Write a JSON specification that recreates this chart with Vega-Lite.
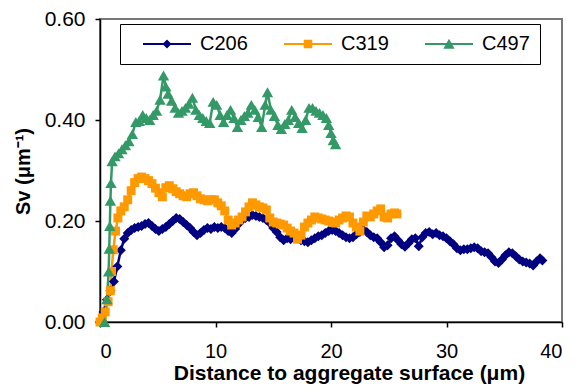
{
  "$schema": "https://vega.github.io/schema/vega-lite/v6.json",
  "autosize": "none",
  "width": 462,
  "height": 303,
  "padding": {"left": 100, "top": 19, "right": 17, "bottom": 70},
  "background": "white",
  "config": {
    "font": "Liberation Sans",
    "view": {"stroke": "#777777", "strokeWidth": 2}
  },
  "datasets": {
    "pts": [
      {"s":"C206","d":0.0,"v":0.000},{"s":"C206","d":0.3,"v":0.020},{"s":"C206","d":0.6,"v":0.044},{"s":"C206","d":0.9,"v":0.062},{"s":"C206","d":1.2,"v":0.080},{"s":"C206","d":1.5,"v":0.110},{"s":"C206","d":1.8,"v":0.142},{"s":"C206","d":2.1,"v":0.165},{"s":"C206","d":2.4,"v":0.176},{"s":"C206","d":2.7,"v":0.182},{"s":"C206","d":3.0,"v":0.186},{"s":"C206","d":3.3,"v":0.188},{"s":"C206","d":3.6,"v":0.190},{"s":"C206","d":3.9,"v":0.194},{"s":"C206","d":4.2,"v":0.196},{"s":"C206","d":4.5,"v":0.190},{"s":"C206","d":4.8,"v":0.184},{"s":"C206","d":5.1,"v":0.180},{"s":"C206","d":5.4,"v":0.184},{"s":"C206","d":5.7,"v":0.188},{"s":"C206","d":6.0,"v":0.194},{"s":"C206","d":6.3,"v":0.200},{"s":"C206","d":6.6,"v":0.206},{"s":"C206","d":6.9,"v":0.204},{"s":"C206","d":7.2,"v":0.198},{"s":"C206","d":7.5,"v":0.192},{"s":"C206","d":7.8,"v":0.186},{"s":"C206","d":8.1,"v":0.178},{"s":"C206","d":8.4,"v":0.172},{"s":"C206","d":8.7,"v":0.176},{"s":"C206","d":9.0,"v":0.182},{"s":"C206","d":9.3,"v":0.186},{"s":"C206","d":9.6,"v":0.184},{"s":"C206","d":9.9,"v":0.188},{"s":"C206","d":10.2,"v":0.186},{"s":"C206","d":10.5,"v":0.188},{"s":"C206","d":10.8,"v":0.186},{"s":"C206","d":11.1,"v":0.180},{"s":"C206","d":11.4,"v":0.176},{"s":"C206","d":11.7,"v":0.184},{"s":"C206","d":12.0,"v":0.194},{"s":"C206","d":12.3,"v":0.202},{"s":"C206","d":12.6,"v":0.206},{"s":"C206","d":12.9,"v":0.208},{"s":"C206","d":13.2,"v":0.212},{"s":"C206","d":13.5,"v":0.210},{"s":"C206","d":13.8,"v":0.208},{"s":"C206","d":14.1,"v":0.206},{"s":"C206","d":14.4,"v":0.202},{"s":"C206","d":14.7,"v":0.196},{"s":"C206","d":15.0,"v":0.186},{"s":"C206","d":15.3,"v":0.178},{"s":"C206","d":15.6,"v":0.168},{"s":"C206","d":15.9,"v":0.162},{"s":"C206","d":16.2,"v":0.166},{"s":"C206","d":16.5,"v":0.164},{"s":"C206","d":16.8,"v":0.168},{"s":"C206","d":17.1,"v":0.166},{"s":"C206","d":17.4,"v":0.162},{"s":"C206","d":17.7,"v":0.160},{"s":"C206","d":18.0,"v":0.158},{"s":"C206","d":18.3,"v":0.162},{"s":"C206","d":18.6,"v":0.166},{"s":"C206","d":18.9,"v":0.170},{"s":"C206","d":19.2,"v":0.172},{"s":"C206","d":19.5,"v":0.176},{"s":"C206","d":19.8,"v":0.180},{"s":"C206","d":20.1,"v":0.182},{"s":"C206","d":20.4,"v":0.180},{"s":"C206","d":20.7,"v":0.176},{"s":"C206","d":21.0,"v":0.172},{"s":"C206","d":21.3,"v":0.168},{"s":"C206","d":21.6,"v":0.166},{"s":"C206","d":21.9,"v":0.168},{"s":"C206","d":22.2,"v":0.174},{"s":"C206","d":22.5,"v":0.178},{"s":"C206","d":22.8,"v":0.182},{"s":"C206","d":23.1,"v":0.178},{"s":"C206","d":23.4,"v":0.172},{"s":"C206","d":23.7,"v":0.168},{"s":"C206","d":24.0,"v":0.166},{"s":"C206","d":24.3,"v":0.158},{"s":"C206","d":24.6,"v":0.148},{"s":"C206","d":24.9,"v":0.152},{"s":"C206","d":25.2,"v":0.166},{"s":"C206","d":25.5,"v":0.170},{"s":"C206","d":25.8,"v":0.162},{"s":"C206","d":26.1,"v":0.154},{"s":"C206","d":26.4,"v":0.149},{"s":"C206","d":26.7,"v":0.156},{"s":"C206","d":27.0,"v":0.164},{"s":"C206","d":27.3,"v":0.166},{"s":"C206","d":27.6,"v":0.150},{"s":"C206","d":27.9,"v":0.168},{"s":"C206","d":28.2,"v":0.176},{"s":"C206","d":28.5,"v":0.178},{"s":"C206","d":28.8,"v":0.174},{"s":"C206","d":29.1,"v":0.176},{"s":"C206","d":29.4,"v":0.172},{"s":"C206","d":29.7,"v":0.170},{"s":"C206","d":30.0,"v":0.166},{"s":"C206","d":30.3,"v":0.160},{"s":"C206","d":30.6,"v":0.154},{"s":"C206","d":30.9,"v":0.146},{"s":"C206","d":31.2,"v":0.142},{"s":"C206","d":31.5,"v":0.144},{"s":"C206","d":31.8,"v":0.144},{"s":"C206","d":32.1,"v":0.146},{"s":"C206","d":32.4,"v":0.148},{"s":"C206","d":32.7,"v":0.146},{"s":"C206","d":33.0,"v":0.140},{"s":"C206","d":33.3,"v":0.138},{"s":"C206","d":33.6,"v":0.136},{"s":"C206","d":33.9,"v":0.128},{"s":"C206","d":34.2,"v":0.120},{"s":"C206","d":34.5,"v":0.117},{"s":"C206","d":34.8,"v":0.124},{"s":"C206","d":35.1,"v":0.132},{"s":"C206","d":35.4,"v":0.138},{"s":"C206","d":35.7,"v":0.136},{"s":"C206","d":36.0,"v":0.130},{"s":"C206","d":36.3,"v":0.124},{"s":"C206","d":36.6,"v":0.120},{"s":"C206","d":36.9,"v":0.118},{"s":"C206","d":37.2,"v":0.116},{"s":"C206","d":37.5,"v":0.112},{"s":"C206","d":37.8,"v":0.120},{"s":"C206","d":38.1,"v":0.126},{"s":"C206","d":38.3,"v":0.122},
      {"s":"C319","d":0.0,"v":0.000},{"s":"C319","d":0.2,"v":0.008},{"s":"C319","d":0.45,"v":0.020},{"s":"C319","d":0.7,"v":0.040},{"s":"C319","d":0.9,"v":0.062},{"s":"C319","d":1.0,"v":0.100},{"s":"C319","d":1.15,"v":0.143},{"s":"C319","d":1.35,"v":0.180},{"s":"C319","d":1.55,"v":0.206},{"s":"C319","d":1.8,"v":0.220},{"s":"C319","d":2.1,"v":0.228},{"s":"C319","d":2.4,"v":0.242},{"s":"C319","d":2.7,"v":0.260},{"s":"C319","d":3.0,"v":0.276},{"s":"C319","d":3.3,"v":0.284},{"s":"C319","d":3.6,"v":0.287},{"s":"C319","d":3.9,"v":0.284},{"s":"C319","d":4.2,"v":0.280},{"s":"C319","d":4.5,"v":0.274},{"s":"C319","d":4.8,"v":0.265},{"s":"C319","d":5.1,"v":0.256},{"s":"C319","d":5.4,"v":0.248},{"s":"C319","d":5.7,"v":0.266},{"s":"C319","d":6.0,"v":0.270},{"s":"C319","d":6.3,"v":0.264},{"s":"C319","d":6.6,"v":0.258},{"s":"C319","d":6.9,"v":0.254},{"s":"C319","d":7.2,"v":0.250},{"s":"C319","d":7.5,"v":0.248},{"s":"C319","d":7.8,"v":0.254},{"s":"C319","d":8.1,"v":0.256},{"s":"C319","d":8.4,"v":0.250},{"s":"C319","d":8.7,"v":0.244},{"s":"C319","d":9.0,"v":0.242},{"s":"C319","d":9.3,"v":0.240},{"s":"C319","d":9.6,"v":0.242},{"s":"C319","d":9.9,"v":0.242},{"s":"C319","d":10.2,"v":0.236},{"s":"C319","d":10.5,"v":0.230},{"s":"C319","d":10.8,"v":0.220},{"s":"C319","d":11.1,"v":0.202},{"s":"C319","d":11.4,"v":0.192},{"s":"C319","d":11.7,"v":0.196},{"s":"C319","d":12.0,"v":0.202},{"s":"C319","d":12.3,"v":0.208},{"s":"C319","d":12.6,"v":0.218},{"s":"C319","d":12.9,"v":0.228},{"s":"C319","d":13.2,"v":0.236},{"s":"C319","d":13.5,"v":0.232},{"s":"C319","d":13.8,"v":0.228},{"s":"C319","d":14.1,"v":0.226},{"s":"C319","d":14.4,"v":0.222},{"s":"C319","d":14.7,"v":0.206},{"s":"C319","d":15.0,"v":0.198},{"s":"C319","d":15.3,"v":0.196},{"s":"C319","d":15.6,"v":0.194},{"s":"C319","d":15.9,"v":0.192},{"s":"C319","d":16.2,"v":0.186},{"s":"C319","d":16.5,"v":0.180},{"s":"C319","d":16.8,"v":0.176},{"s":"C319","d":17.1,"v":0.164},{"s":"C319","d":17.4,"v":0.172},{"s":"C319","d":17.7,"v":0.188},{"s":"C319","d":18.0,"v":0.196},{"s":"C319","d":18.3,"v":0.202},{"s":"C319","d":18.6,"v":0.208},{"s":"C319","d":18.9,"v":0.206},{"s":"C319","d":19.2,"v":0.204},{"s":"C319","d":19.5,"v":0.202},{"s":"C319","d":19.8,"v":0.200},{"s":"C319","d":20.1,"v":0.198},{"s":"C319","d":20.4,"v":0.196},{"s":"C319","d":20.7,"v":0.202},{"s":"C319","d":21.0,"v":0.206},{"s":"C319","d":21.3,"v":0.210},{"s":"C319","d":21.6,"v":0.208},{"s":"C319","d":21.9,"v":0.196},{"s":"C319","d":22.2,"v":0.188},{"s":"C319","d":22.5,"v":0.180},{"s":"C319","d":22.8,"v":0.198},{"s":"C319","d":23.1,"v":0.210},{"s":"C319","d":23.4,"v":0.208},{"s":"C319","d":23.7,"v":0.214},{"s":"C319","d":24.0,"v":0.220},{"s":"C319","d":24.3,"v":0.224},{"s":"C319","d":24.6,"v":0.208},{"s":"C319","d":24.9,"v":0.206},{"s":"C319","d":25.2,"v":0.214},{"s":"C319","d":25.5,"v":0.216},{"s":"C319","d":25.7,"v":0.214},
      {"s":"C497","d":0.4,"v":0.000},{"s":"C497","d":0.6,"v":0.045},{"s":"C497","d":0.75,"v":0.100},{"s":"C497","d":0.8,"v":0.145},{"s":"C497","d":0.85,"v":0.190},{"s":"C497","d":0.9,"v":0.240},{"s":"C497","d":0.95,"v":0.275},{"s":"C497","d":1.05,"v":0.318},{"s":"C497","d":1.3,"v":0.328},{"s":"C497","d":1.6,"v":0.334},{"s":"C497","d":1.9,"v":0.342},{"s":"C497","d":2.2,"v":0.350},{"s":"C497","d":2.5,"v":0.358},{"s":"C497","d":2.8,"v":0.372},{"s":"C497","d":3.1,"v":0.396},{"s":"C497","d":3.4,"v":0.398},{"s":"C497","d":3.7,"v":0.410},{"s":"C497","d":4.0,"v":0.404},{"s":"C497","d":4.3,"v":0.400},{"s":"C497","d":4.6,"v":0.410},{"s":"C497","d":4.9,"v":0.418},{"s":"C497","d":5.2,"v":0.440},{"s":"C497","d":5.5,"v":0.488},{"s":"C497","d":5.7,"v":0.466},{"s":"C497","d":5.9,"v":0.452},{"s":"C497","d":6.2,"v":0.438},{"s":"C497","d":6.5,"v":0.424},{"s":"C497","d":6.8,"v":0.414},{"s":"C497","d":7.1,"v":0.418},{"s":"C497","d":7.4,"v":0.424},{"s":"C497","d":7.7,"v":0.432},{"s":"C497","d":8.0,"v":0.444},{"s":"C497","d":8.3,"v":0.420},{"s":"C497","d":8.6,"v":0.410},{"s":"C497","d":8.9,"v":0.404},{"s":"C497","d":9.2,"v":0.398},{"s":"C497","d":9.5,"v":0.394},{"s":"C497","d":9.8,"v":0.436},{"s":"C497","d":10.1,"v":0.430},{"s":"C497","d":10.4,"v":0.410},{"s":"C497","d":10.7,"v":0.396},{"s":"C497","d":11.0,"v":0.410},{"s":"C497","d":11.3,"v":0.420},{"s":"C497","d":11.6,"v":0.404},{"s":"C497","d":11.9,"v":0.386},{"s":"C497","d":12.2,"v":0.400},{"s":"C497","d":12.5,"v":0.408},{"s":"C497","d":12.8,"v":0.414},{"s":"C497","d":13.1,"v":0.430},{"s":"C497","d":13.4,"v":0.420},{"s":"C497","d":13.7,"v":0.406},{"s":"C497","d":14.0,"v":0.386},{"s":"C497","d":14.3,"v":0.430},{"s":"C497","d":14.5,"v":0.455},{"s":"C497","d":14.8,"v":0.420},{"s":"C497","d":15.1,"v":0.408},{"s":"C497","d":15.4,"v":0.390},{"s":"C497","d":15.7,"v":0.382},{"s":"C497","d":16.0,"v":0.392},{"s":"C497","d":16.3,"v":0.400},{"s":"C497","d":16.6,"v":0.420},{"s":"C497","d":16.9,"v":0.406},{"s":"C497","d":17.2,"v":0.394},{"s":"C497","d":17.5,"v":0.384},{"s":"C497","d":17.8,"v":0.400},{"s":"C497","d":18.1,"v":0.424},{"s":"C497","d":18.4,"v":0.424},{"s":"C497","d":18.7,"v":0.418},{"s":"C497","d":19.0,"v":0.414},{"s":"C497","d":19.3,"v":0.410},{"s":"C497","d":19.6,"v":0.404},{"s":"C497","d":19.8,"v":0.390},{"s":"C497","d":20.0,"v":0.374},{"s":"C497","d":20.2,"v":0.360},{"s":"C497","d":20.4,"v":0.352}
    ]
  },
  "data": {"name": "pts"},
  "encoding": {
    "x": {
      "field": "d", "type": "quantitative",
      "scale": {"domain": [0, 40], "nice": false, "zero": false},
      "axis": {
        "values": [0, 10, 20, 30, 40], "grid": false,
        "domainColor": "black", "domainWidth": 1.5, "tickColor": "black", "tickSize": 5, "tickWidth": 1.5,
        "labelFontSize": 20, "labelColor": "black", "labelPadding": 14,
        "title": "Distance to aggregate surface (μm)", "titleFontSize": 21, "titleFontWeight": "bold", "titleColor": "black",
        "titleX": 249, "titleY": 57, "titleBaseline": "alphabetic", "titleAnchor": "middle", "titleAlign": "center"
      }
    },
    "y": {
      "field": "v", "type": "quantitative",
      "scale": {"domain": [0, 0.6], "nice": false},
      "axis": {
        "values": [0, 0.2, 0.4, 0.6], "format": ".2f", "grid": false,
        "domainColor": "black", "domainWidth": 1.5, "tickColor": "black", "tickSize": 5, "tickWidth": 1.5,
        "labelFontSize": 21, "labelColor": "black", "labelPadding": 10,
        "title": "Sv (μm⁻¹)", "titleFontSize": 20, "titleFontWeight": "bold", "titleColor": "black",
        "titleX": -77, "titleY": 152, "titleBaseline": "middle", "titleAlign": "center", "titleAngle": -90
      }
    },
    "color": {
      "field": "s", "type": "nominal",
      "scale": {"domain": ["C206", "C319", "C497"], "range": ["#000080", "#FF9900", "#339966"]},
      "legend": {
        "title": null, "orient": "none", "legendX": 20, "legendY": 5, "direction": "horizontal",
        "strokeColor": "black", "fillColor": "white", "padding": 10,
        "labelFontSize": 20, "labelColor": "black", "labelOffset": 23, "columnPadding": 23,
        "symbolSize": 256, "symbolOffset": 27, "symbolStrokeWidth": 0, "symbolOpacity": 1,
        "encode": {
          "symbols": {
            "update": {
              "shape": {"signal": "datum.value === 'C206' ? 'M-3,-0.12L3,-0.12L3,0.12L-3,0.12ZM0,-0.56L0.56,0L0,0.56L-0.56,0Z' : datum.value === 'C319' ? 'M-3,-0.12L3,-0.12L3,0.12L-3,0.12ZM-0.53,-0.53L0.53,-0.53L0.53,0.53L-0.53,0.53Z' : 'M-3,-0.12L3,-0.12L3,0.12L-3,0.12ZM0,-0.65L0.7,0.6L-0.7,0.6Z'"},
              "size": {"value": 256},
              "fill": {"signal": "scale('color', datum.value)"},
              "fillOpacity": {"value": 1},
              "opacity": {"value": 1}
            }
          }
        }
      }
    }
  },
  "layer": [
    {"mark": {"type": "line", "strokeWidth": 2.5}, "encoding": {"order": {"field": "d", "type": "quantitative"}}},
    {
      "transform": [{"filter": "datum.s === 'C206'"}],
      "mark": {"type": "point", "filled": true, "opacity": 1, "shape": "diamond", "size": 100}
    },
    {
      "transform": [{"filter": "datum.s === 'C319'"}],
      "mark": {"type": "point", "filled": true, "opacity": 1, "shape": "square", "size": 80}
    },
    {
      "transform": [{"filter": "datum.s === 'C497'"}],
      "mark": {"type": "point", "filled": true, "opacity": 1, "shape": "triangle-up", "size": 130}
    }
  ]
}
